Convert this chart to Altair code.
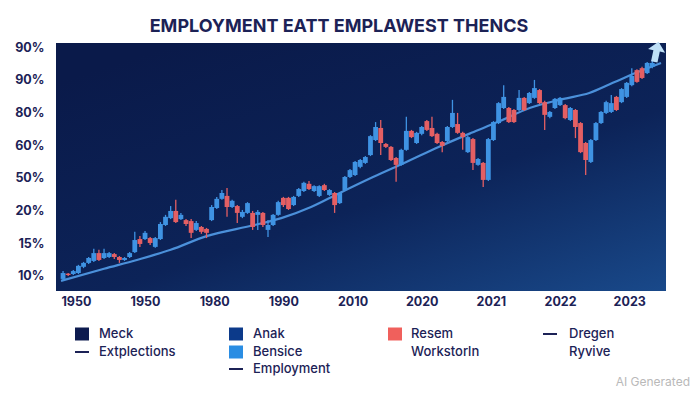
import altair as alt
import pandas as pd

# ---------------- data ----------------
title_text = "EMPLOYMENT EATT EMPLAWEST THENCS"
x_tick_values = [2.5, 16.0, 29.5, 43.0, 56.5, 70.0, 83.5, 97.0, 110.5]
x_tick_labels = ["1950", "1950", "1980", "1990", "2010", "2020", "2021", "2022", "2023"]
y_tick_values = [0, 10, 20, 30, 40, 50, 60, 70]
y_tick_labels = ["10%", "15%", "20%", "50%", "60%", "80%", "90%", "90%"]

candle_open = [
    -0.9, 0.7, 0.6, 0.9, 2.8, 4.0, 4.6, 7.0, 5.5, 5.8,
    6.7, 5.8, 4.9, 5.8, 7.3, 11.3, 11.3, 11.6, 8.9, 11.3,
    15.6, 17.7, 19.9, 17.4, 17.1, 16.8, 14.1, 15.0, 14.4, 17.1,
    20.8, 23.6, 24.5, 21.1, 21.4, 18.1, 19.3, 19.3, 18.7, 19.3,
    14.1, 15.6, 18.7, 23.9, 23.9, 21.7, 24.5, 26.0, 28.2, 26.0,
    24.5, 27.8, 24.8, 25.4, 22.3, 26.3, 30.3, 30.9, 33.4, 34.6,
    37.0, 41.6, 45.3, 40.4, 39.5, 36.1, 34.0, 38.6, 44.4, 40.7,
    43.5, 47.4, 45.3, 43.5, 41.0, 41.3, 45.6, 46.5, 43.8, 37.9,
    41.9, 34.0, 34.6, 29.4, 41.6, 46.8, 51.4, 51.4, 50.8, 50.8,
    54.5, 52.9, 54.5, 56.9, 53.2, 48.7, 51.4, 52.3, 52.3, 47.7,
    50.8, 46.8, 40.7, 34.9, 41.6, 46.8, 49.9, 50.2, 54.8, 53.2,
    54.8, 58.4, 63.0, 63.6, 62.1, 64.0,
]
candle_high = [
    1.5, 0.9, 1.8, 3.4, 4.3, 5.8, 8.3, 8.0, 8.3, 7.3,
    7.0, 6.1, 5.8, 7.3, 13.5, 12.2, 13.8, 11.9, 11.9, 16.5,
    18.7, 21.4, 23.3, 19.3, 17.4, 17.4, 16.8, 15.3, 14.7, 21.7,
    24.2, 26.3, 26.9, 23.3, 21.7, 20.2, 22.6, 19.9, 20.2, 19.6,
    17.1, 19.0, 23.0, 24.2, 24.2, 24.5, 26.9, 28.8, 29.1, 27.8,
    27.8, 28.2, 26.6, 25.7, 25.7, 30.6, 32.7, 35.2, 35.8, 36.7,
    43.1, 47.1, 47.7, 40.7, 39.8, 36.4, 38.9, 48.7, 44.7, 44.1,
    45.9, 47.7, 48.7, 43.8, 41.3, 45.9, 53.9, 49.9, 44.1, 42.8,
    42.2, 36.1, 34.9, 42.2, 47.4, 53.2, 58.4, 51.7, 51.1, 56.9,
    54.8, 56.3, 60.0, 57.2, 53.6, 50.5, 54.5, 54.8, 52.6, 51.7,
    51.1, 47.1, 41.0, 41.9, 47.1, 50.5, 53.6, 55.4, 55.1, 57.5,
    59.4, 63.6, 63.3, 64.0, 65.5, 66.1,
]
candle_low = [
    -1.5, 0.0, 0.3, 0.6, 2.4, 3.7, 4.3, 4.6, 5.2, 5.5,
    5.2, 4.0, 4.6, 5.5, 7.0, 8.9, 11.0, 9.5, 8.6, 11.0,
    15.3, 17.4, 16.2, 17.1, 15.3, 11.6, 13.8, 12.9, 11.6, 16.8,
    20.5, 23.3, 18.1, 20.8, 16.2, 17.7, 19.0, 14.1, 14.1, 15.0,
    11.9, 15.3, 18.4, 21.1, 20.2, 21.4, 24.2, 25.7, 26.3, 25.7,
    24.2, 26.0, 24.5, 19.3, 22.0, 26.0, 30.0, 30.6, 33.0, 34.3,
    36.7, 41.3, 37.0, 39.2, 35.2, 28.8, 33.7, 38.3, 42.2, 40.4,
    43.1, 44.4, 42.5, 40.4, 37.9, 41.0, 45.3, 43.5, 38.6, 37.6,
    32.4, 33.7, 27.2, 29.1, 41.3, 46.5, 51.1, 46.8, 46.8, 50.5,
    50.5, 52.6, 54.2, 52.6, 44.7, 48.3, 51.1, 52.0, 48.0, 47.4,
    42.2, 37.6, 30.9, 34.6, 41.3, 46.5, 49.6, 49.9, 50.5, 52.9,
    54.5, 58.1, 59.1, 60.3, 61.8, 63.6,
]
candle_close = [
    0.9, 0.3, 1.5, 3.1, 4.0, 5.5, 7.0, 4.9, 7.0, 7.0,
    5.8, 4.9, 5.5, 7.0, 11.0, 9.8, 13.2, 10.1, 11.6, 15.9,
    18.1, 19.9, 16.5, 18.7, 15.9, 13.2, 16.2, 13.5, 13.2, 21.1,
    23.6, 25.4, 21.1, 23.0, 19.3, 19.6, 22.3, 15.0, 19.6, 15.6,
    15.6, 18.7, 22.6, 21.7, 20.5, 24.2, 26.6, 28.5, 26.6, 27.5,
    27.5, 26.3, 26.3, 21.7, 25.4, 30.3, 32.4, 34.9, 35.5, 36.4,
    42.8, 45.6, 40.7, 39.5, 35.5, 34.0, 38.6, 44.4, 42.5, 43.8,
    45.6, 44.7, 42.8, 40.7, 39.8, 45.6, 49.9, 43.8, 42.5, 42.5,
    34.6, 35.8, 29.4, 41.9, 47.1, 52.9, 54.8, 47.1, 47.1, 54.5,
    50.8, 56.0, 57.5, 52.9, 49.3, 50.2, 54.2, 54.5, 48.3, 51.4,
    45.6, 37.9, 35.5, 41.6, 46.8, 50.2, 53.2, 52.9, 50.8, 57.2,
    59.1, 61.2, 59.4, 60.6, 65.2, 65.2,
]

trend_x = [-0.4, 8.0, 14.4, 21.0, 28.0, 37.4, 42.6, 48.4, 54.1, 60.5,
           67.0, 73.3, 79.7, 84.8, 91.2, 97.7, 102.7, 107.3, 111.7, 116.7]
trend_y = [-1.5, 2.2, 4.9, 8.0, 12.2, 15.6, 17.7, 21.1, 25.5, 30.3,
           34.9, 39.5, 43.8, 47.1, 51.5, 54.2, 56.0, 59.1, 62.1, 65.2]

arrow_x = [115.8]
arrow_y = [68.6]

legend_labels = ["Meck", "Extplections", "Anak", "Bensice", "Employment",
                 "Resem", "Workstorln", "Dregen", "Ryvive"]
legend_kinds = ["box", "line", "box", "box", "line", "box", "none", "line", "none"]
legend_colors = ["#0d1b4f", "#1c2256", "#0c3a8a", "#2a8de3", "#1c2256",
                 "#f0605c", "#1c2256", "#1c2256", "#1c2256"]

# ---------------- styling / layout ----------------
W, H = 610, 248
NAVY = "#1c2256"
BLUE = "#3f93e3"
RED = "#e45f63"
FONT = "Inter"

candles = pd.DataFrame({
    "t": list(range(len(candle_open))),
    "open": candle_open, "high": candle_high,
    "low": candle_low, "close": candle_close,
})
candles["dir"] = ["up" if c >= o else "down" for o, c in zip(candle_open, candle_close)]

trend = pd.DataFrame({"t": trend_x, "v": trend_y})
arrow = pd.DataFrame({"t": arrow_x, "v": arrow_y})

legend_cols = [0, 0, 1, 1, 1, 2, 2, 3, 3]
legend_rows = [0, 1, 0, 1, 2, 0, 1, 0, 1]
col_sym_x = [26, 180, 339, 494]
col_txt_x = [43, 197, 355, 513]
row_y = [291, 309, 326]
leg = pd.DataFrame({
    "label": legend_labels, "kind": legend_kinds, "color": legend_colors,
    "sx": [col_sym_x[c] for c in legend_cols],
    "tx": [col_txt_x[c] for c in legend_cols],
    "ly": [row_y[r] for r in legend_rows],
})

x_scale = alt.Scale(domain=[-0.4, 116.7], nice=False, zero=False)
y_scale = alt.Scale(domain=[-4.6, 71.3], nice=False, zero=False)
color_scale = alt.Scale(domain=["up", "down"], range=[BLUE, RED])

x_label_expr = "[" + ",".join(f"'{s}'" for s in x_tick_labels) + "][round((datum.value-2.5)/13.5)]"
y_label_expr = "[" + ",".join(f"'{s}'" for s in y_tick_labels) + "][round(datum.value/10)]"

x_axis = alt.Axis(values=x_tick_values, labelExpr=x_label_expr, title=None,
                  grid=True, gridColor="#6f8fd0", gridOpacity=0.08,
                  domain=False, ticks=False, labelPadding=4, labelOverlap=False)
y_axis = alt.Axis(values=y_tick_values, labelExpr=y_label_expr, title=None,
                  grid=True, gridColor="#6f8fd0", gridOpacity=0.05,
                  domain=False, ticks=False, labelPadding=12, labelOverlap=False,
                  labelBound=False)


def X(field):
    return alt.X(field, type="quantitative", scale=x_scale, axis=x_axis)


def Y(field):
    return alt.Y(field, type="quantitative", scale=y_scale, axis=y_axis)


bg = alt.Chart(pd.DataFrame({"a": [0]})).mark_rect(
    color=alt.LinearGradient(
        gradient="linear", x1=0.2, y1=0, x2=1, y2=1,
        stops=[alt.GradientStop(color="#0a1a4a", offset=0),
               alt.GradientStop(color="#0c2358", offset=0.55),
               alt.GradientStop(color="#19498a", offset=1)],
    )
).encode(x=alt.value(0), x2=alt.value(W), y=alt.value(0), y2=alt.value(H))

trend_line = alt.Chart(trend).mark_line(
    color="#4b90da", strokeWidth=2.2, interpolate="monotone"
).encode(x=X("t"), y=Y("v"))

wicks = alt.Chart(candles).mark_rule(strokeWidth=1.3).encode(
    x=X("t"), y=Y("low"), y2="high:Q",
    color=alt.Color("dir:N", scale=color_scale, legend=None),
)
bodies = alt.Chart(candles).mark_bar(size=4.8).encode(
    x=X("t"), y=Y("open"), y2="close:Q",
    color=alt.Color("dir:N", scale=color_scale, legend=None),
)

arrow_path = "M0,-1 L0.85,-0.1 L0.32,-0.1 L0.32,1 L-0.32,1 L-0.32,-0.1 L-0.85,-0.1 Z"
arrow_mark = alt.Chart(arrow).mark_point(
    shape=arrow_path, size=420, filled=True, color="#bfe0f7", opacity=1, angle=12
).encode(x=X("t"), y=Y("v"))

leg_base = alt.Chart(leg)
leg_boxes = leg_base.transform_filter("datum.kind == 'box'").transform_calculate(
    x1="datum.sx - 7", x2="datum.sx + 7", y1="datum.ly - 6.5", y2="datum.ly + 6.5"
).mark_rect().encode(
    x=alt.X("x1:Q", scale=None), x2="x2:Q",
    y=alt.Y("y1:Q", scale=None), y2="y2:Q",
    color=alt.Color("color:N", scale=None),
)
leg_lines = leg_base.transform_filter("datum.kind == 'line'").transform_calculate(
    x1="datum.sx - 7", x2="datum.sx + 7"
).mark_rule(strokeWidth=2).encode(
    x=alt.X("x1:Q", scale=None), x2="x2:Q",
    y=alt.Y("ly:Q", scale=None),
    color=alt.Color("color:N", scale=None),
)
leg_text = leg_base.mark_text(
    align="left", baseline="middle", font=FONT, fontSize=13,
    fontWeight=500, color=NAVY
).encode(
    x=alt.X("tx:Q", scale=None), y=alt.Y("ly:Q", scale=None), text="label:N"
)

ai_text = alt.Chart(pd.DataFrame({"s": ["AI Generated"]})).mark_text(
    align="right", baseline="middle", font=FONT, fontSize=12, color="#b9b9b9"
).encode(x=alt.value(634), y=alt.value(339), text="s:N")

chart = alt.layer(
    bg, trend_line, wicks, bodies, arrow_mark,
    leg_boxes, leg_lines, leg_text, ai_text
).properties(
    width=W, height=H,
    title=alt.TitleParams(
        text=title_text, font=FONT, fontSize=18, fontWeight="bold",
        color=NAVY, anchor="middle", dx=-22, dy=3, offset=8
    ),
    autosize=alt.AutoSizeParams(type="none"),
    padding={"left": 48, "top": 35, "right": 26, "bottom": 101},
).configure_view(
    stroke=None
).configure_axis(
    labelFont=FONT, labelFontSize=12.5, labelFontWeight="bold", labelColor=NAVY
)

chart.save("out.html", embed_options={"renderer": "svg", "actions": False})
